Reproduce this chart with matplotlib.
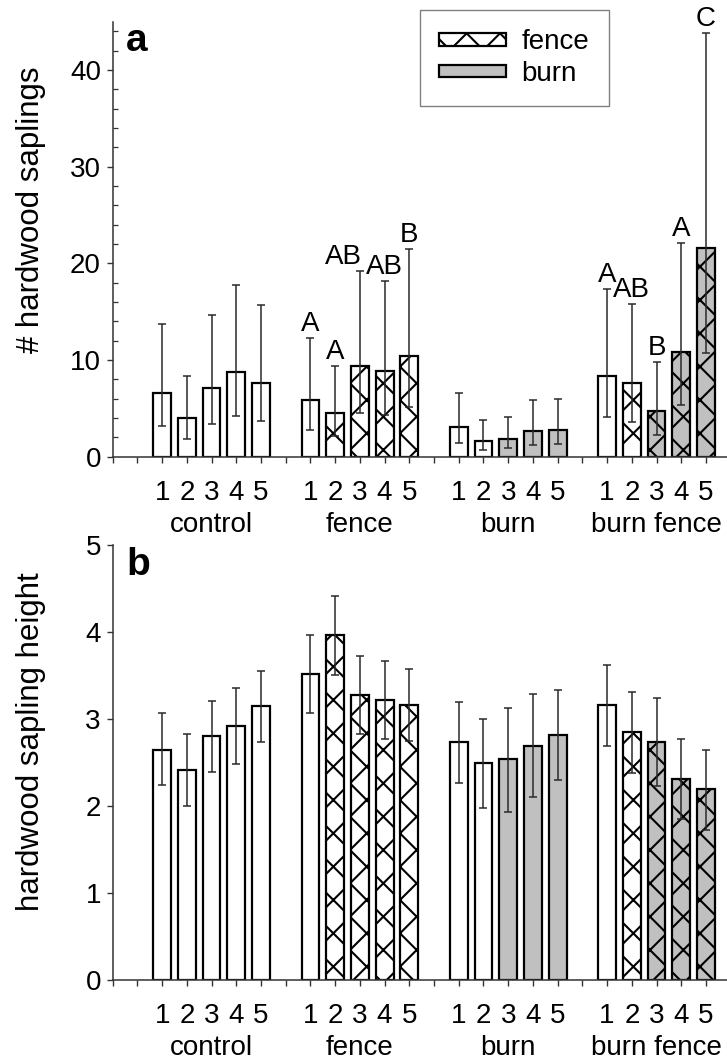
import matplotlib
matplotlib.use("Agg")
import matplotlib.pyplot as plt
from matplotlib.patches import Patch
from matplotlib.ticker import MultipleLocator
import numpy as np

plt.rcParams['font.family'] = ['Liberation Sans', 'DejaVu Sans']
plt.rcParams['hatch.linewidth'] = 1.5

# treatments and plots
groups = ["control", "fence", "burn", "burn fence"]
plots = ["1", "2", "3", "4", "5"]

# which bars get the fence hatch / the burn fill
fenced = [0, 0, 0, 0, 0, 0, 1, 1, 1, 1, 0, 0, 0, 0, 0, 0, 1, 1, 1, 1]
burned = [0, 0, 0, 0, 0, 0, 0, 0, 0, 0, 0, 0, 1, 1, 1, 0, 0, 1, 1, 1]

# panel a : number of hardwood saplings (mean, upper and lower error limit)
count_mean = [6.55, 3.97, 7.14, 8.72, 7.6, 5.86, 4.48, 9.38, 8.9, 10.45,
              3.03, 1.66, 1.79, 2.66, 2.76, 8.38, 7.66, 4.76, 10.86, 21.55]
count_hi = [13.7, 8.3, 14.66, 17.8, 15.7, 12.24, 9.4, 19.2, 18.2, 21.5,
            6.55, 3.8, 4.14, 5.86, 5.97, 17.3, 15.8, 9.83, 22.1, 43.86]
count_lo = [3.2, 1.8, 3.4, 4.2, 3.7, 2.76, 2.14, 4.48, 4.3, 5.17,
            1.38, 0.69, 0.86, 1.2, 1.28, 4.14, 3.6, 2.24, 5.34, 10.7]
count_letters = ["", "", "", "", "", "A", "A", "AB", "AB", "B",
                 "", "", "", "", "", "A", "AB", "B", "A", "C"]
letter_ha = ["center"] * 7 + ["right"] + ["center"] * 12

# panel b : hardwood sapling height
height_mean = [2.65, 2.42, 2.80, 2.92, 3.15, 3.52, 3.97, 3.28, 3.22, 3.16,
               2.74, 2.49, 2.54, 2.69, 2.82, 3.16, 2.85, 2.74, 2.31, 2.2]
height_hi = [3.07, 2.83, 3.21, 3.36, 3.55, 3.97, 4.41, 3.72, 3.67, 3.57,
             3.2, 3.0, 3.13, 3.29, 3.33, 3.62, 3.31, 3.24, 2.77, 2.65]
height_lo = [2.24, 2.0, 2.39, 2.48, 2.74, 3.07, 3.51, 2.83, 2.77, 2.75,
             2.27, 1.98, 1.93, 2.1, 2.3, 2.69, 2.38, 2.23, 1.85, 1.73]

GRAY = "#c0c0c0"
FS = 20

# bar positions: 5 bars per group, one empty slot between groups
pos = np.array([2 + 6 * g + i for g in range(len(groups)) for i in range(len(plots))])
group_pos = [2 + 6 * g + 2 for g in range(len(groups))]


def draw_panel(ax, mean, lo, hi, ymax, ylab, panel):
    mean = np.array(mean)
    for k in range(len(pos)):
        ax.bar(pos[k], mean[k], width=0.72,
               color=GRAY if burned[k] else "white",
               edgecolor="black", linewidth=1.6,
               hatch="x" if fenced[k] else None, zorder=2)
    yerr = [mean - np.array(lo), np.array(hi) - mean]
    ax.errorbar(pos, mean, yerr=yerr, fmt="none", ecolor="#2a2a2a",
                elinewidth=1.1, capsize=3, capthick=1.1, zorder=3)

    ax.set_xlim(0, 24.85)
    ax.set_ylim(0, ymax)
    for s in ["top", "right"]:
        ax.spines[s].set_visible(False)
    for s in ["left", "bottom"]:
        ax.spines[s].set_linewidth(1.1)
        ax.spines[s].set_color("#333333")

    ticks = np.arange(0, 25)
    ax.set_xticks(ticks)
    labs = []
    for t in ticks:
        if t in pos:
            labs.append(plots[list(pos).index(t) % 5])
        else:
            labs.append("")
    ax.set_xticklabels(labs, fontsize=FS)
    ax.tick_params(axis="x", direction="out", length=4.5, width=1.0, pad=12,
                   color="#333333")
    ax.tick_params(axis="y", which="major", direction="out", length=4.5,
                   width=1.0, labelsize=FS, pad=4, color="#333333")
    for gp, name in zip(group_pos, groups):
        ax.annotate(name, xy=(gp, 0), xycoords=("data", "axes fraction"),
                    xytext=(0, -55), textcoords="offset pixels",
                    ha="center", va="top", fontsize=FS)
    ax.text(0.022, 0.955, panel, transform=ax.transAxes, fontsize=28,
            fontweight="bold", ha="left", va="center")
    ax.set_ylabel(ylab, fontsize=22.5)


fig = plt.figure(figsize=(7.27, 10.64), dpi=100)
ax1 = fig.add_axes([0.155, 0.5708, 0.845, 0.4088])
ax2 = fig.add_axes([0.155, 0.0789, 0.845, 0.4088])

draw_panel(ax1, count_mean, count_lo, count_hi, 45, "# hardwood saplings", "a")
ax1.yaxis.set_major_locator(MultipleLocator(10))
ax1.yaxis.set_minor_locator(MultipleLocator(2))
ax1.tick_params(axis="y", which="minor", direction="in", length=3.5,
                width=0.9, color="#333333")
for k in range(len(pos)):
    if count_letters[k]:
        dx = 2 if letter_ha[k] == "right" else 0
        ax1.annotate(count_letters[k], xy=(pos[k], count_hi[k]),
                     xytext=(dx, 1), textcoords="offset pixels",
                     ha=letter_ha[k], va="bottom", fontsize=FS)
ax1.yaxis.set_label_coords(-0.108, 0.567)

draw_panel(ax2, height_mean, height_lo, height_hi, 5, "hardwood sapling height", "b")
ax2.yaxis.set_major_locator(MultipleLocator(1))
ax2.yaxis.set_label_coords(-0.108, 0.549)

handles = [Patch(facecolor="white", edgecolor="black", hatch="x", linewidth=1.6),
           Patch(facecolor=GRAY, edgecolor="black", linewidth=1.6)]
leg = fig.legend(handles, ["fence", "burn"], loc="upper left",
                 bbox_to_anchor=(420 / 727, 1 - 10 / 1064),
                 bbox_transform=fig.transFigure, fontsize=FS,
                 handlelength=2.4, handleheight=0.32, handletextpad=0.55,
                 labelspacing=0.2, borderpad=0.7, borderaxespad=0,
                 fancybox=False, framealpha=1)
leg.get_frame().set_edgecolor("#808080")
leg.get_frame().set_linewidth(1.0)

fig.savefig("out.png", dpi=100)
